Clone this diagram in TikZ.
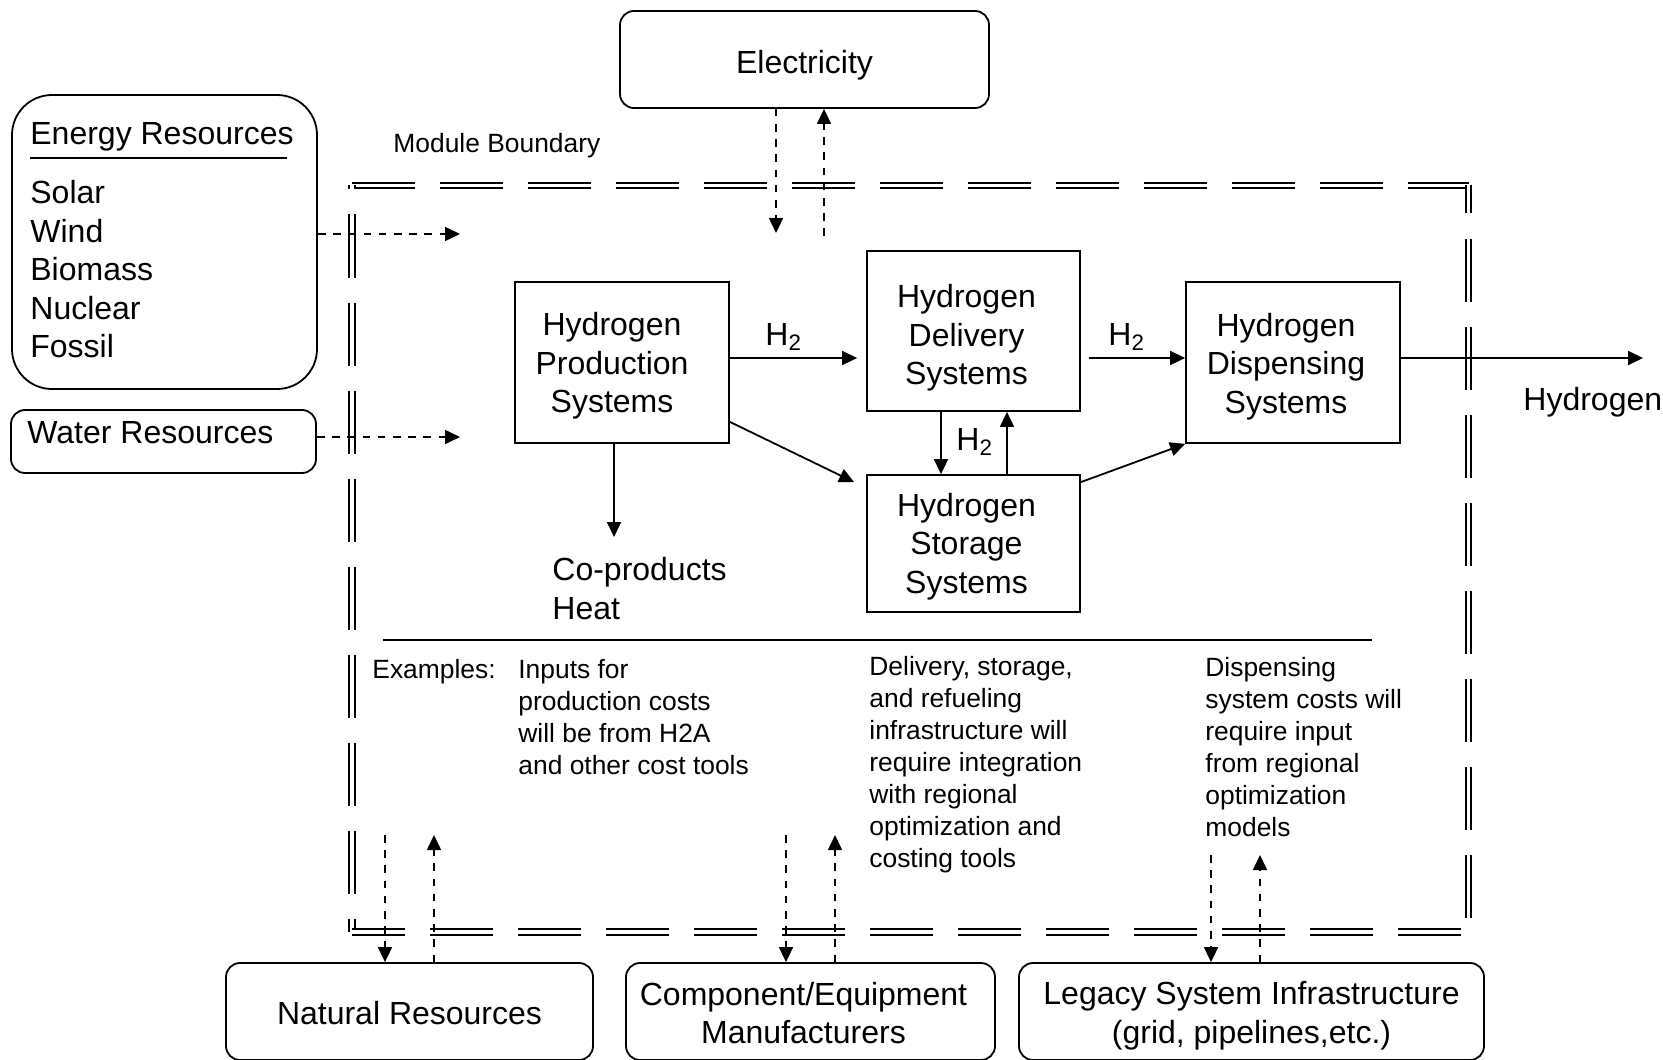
\documentclass[tikz,border=0pt]{standalone}
\usepackage{fontspec}
\setmainfont{Liberation Sans}
\usetikzlibrary{arrows.meta,calc}
\newcommand\myBig{\fontsize{16}{19.25}\selectfont}
\newcommand\mySmall{\fontsize{13.2}{16}\selectfont}
\begin{document}
\begin{tikzpicture}[x=0.5pt,y=-0.5pt,
  box/.style={draw, line width=0.9pt, inner sep=0pt},
  rbox/.style={box, rounded corners=7pt},
  btxt/.style={inner sep=0pt, align=center, font=\myBig},
  txt/.style={inner sep=0pt, align=left, anchor=north west},
  arr/.style={line width=0.9pt, -{Triangle[length=7.5pt,width=7pt]}},
  darr/.style={line width=0.8pt, dash pattern=on 3.8pt off 3.8pt, -{Triangle[length=7.5pt,width=7pt]}},
  bnd/.style={double, double distance=1.6pt, line width=1pt, dash pattern=on 31.5pt off 12.5pt},
  sep/.style={line width=0.8pt}]
\useasboundingbox (0,0) rectangle (1663,1059);

% module boundary
\draw[bnd] (352,185.5) -- (1468.5,185.5);
\draw[bnd, dash phase=17.5pt] (1468.5,185.5) -- (1468.5,932);
\draw[bnd, dash phase=29.5pt] (352,185.5) -- (352,932);
\draw[bnd, dash phase=5pt] (352,932) -- (1468.5,932);
\node[txt, font=\mySmall, anchor=base west] (mb) at (393,153) {Module Boundary};

% boxes
\node[rbox, minimum width=184.5pt, minimum height=48.5pt] (elec) at (804.5,59.5) {};
\node[box, rounded corners=20pt, minimum width=152.5pt, minimum height=147pt] (energy) at (164.5,242) {};
\node[rbox, minimum width=152.5pt, minimum height=31.5pt] (water) at (163.5,441.5) {};
\node[box, minimum width=107pt, minimum height=80.5pt] (prod) at (622,362.5) {};
\node[box, minimum width=106.5pt, minimum height=80pt] (deliv) at (973.5,331) {};
\node[box, minimum width=106.5pt, minimum height=68.5pt] (stor) at (973.5,543.5) {};
\node[box, minimum width=107pt, minimum height=80.5pt] (disp) at (1293,362.5) {};
\node[rbox, minimum width=183.5pt, minimum height=48.5pt] (nat) at (409.5,1011.5) {};
\node[rbox, minimum width=184.5pt, minimum height=48.5pt] (comp) at (810.5,1011.5) {};
\node[rbox, minimum width=232.5pt, minimum height=48.5pt] (leg) at (1251.5,1011.5) {};

% box texts
\node[btxt] (elect) at (804.5,65) {Electricity};
\node[btxt] (prodt) at (612,366) {Hydrogen\\Production\\Systems};
\node[btxt] (delivt) at (966.5,338) {Hydrogen\\Delivery\\Systems};
\node[btxt] (stort) at (966.5,546.5) {Hydrogen\\Storage\\Systems};
\node[btxt] (dispt) at (1286,366.5) {Hydrogen\\Dispensing\\Systems};
\node[btxt] (natt) at (409.5,1013.5) {Natural Resources};
\node[btxt] (compt) at (803.5,1013) {Component/Equipment\\Manufacturers};
\node[btxt] (legt) at (1251.5,1015.5) {Legacy System Infrastructure\\(grid, pipelines,etc.)};

% other texts
\node[txt, font=\myBig] (ehead) at (30,122) {Energy Resources};
\draw[sep] (30,158) -- (287,158);
\node[txt, font=\myBig] (elist) at (30,180) {Solar\\Wind\\Biomass\\Nuclear\\Fossil};
\node[txt, font=\myBig, anchor=base west] (wtext) at (27,443) {Water Resources};
\node[txt, font=\myBig] (coprod) at (552,557) {Co-products\\Heat};
\node[txt, font=\myBig, anchor=base west] (hout) at (1523,410) {Hydrogen};
\node[txt, font=\myBig, anchor=base west] (h2a) at (765,345) {H\textsubscript{2}};
\node[txt, font=\myBig, anchor=base west] (h2b) at (1108,345) {H\textsubscript{2}};
\node[txt, font=\myBig, anchor=base west] (h2c) at (956,450) {H\textsubscript{2}};

\draw[sep] (383,640) -- (1372,640);
\node[txt, font=\mySmall] (ex) at (372,658.5) {Examples:};
\node[txt, font=\mySmall] (ex1) at (518,658.5) {Inputs for\\production costs\\will be from H2A\\and other cost tools};
\node[txt, font=\mySmall] (ex2) at (869,655.5) {Delivery, storage,\\and refueling\\infrastructure will\\require integration\\with regional\\optimization and\\costing tools};
\node[txt, font=\mySmall] (ex3) at (1205,656.5) {Dispensing\\system costs will\\require input\\from regional\\optimization\\models};

% solid connectors
\coordinate (pd) at (0,358);
\coordinate (hend) at (1643,358);
\coordinate (dsx) at (941,0);
\coordinate (usx) at (1007,0);
\coordinate (cpt) at (614,537);
\draw[arr, shorten >=4.5pt] (prod.east |- pd) -- (deliv.west |- pd);
\draw[arr, shorten <=4pt] (deliv.east |- pd) -- (disp.west |- pd);
\draw[arr] (disp.east |- pd) -- (hend);
\draw[arr] ($(prod.south east)+(0,-22)$) -- ($(stor.north west)+(-12,8)$);
\draw[arr] ($(stor.north east)+(0,8)$) -- (disp.south west);
\draw[arr] (deliv.south -| dsx) -- (stor.north -| dsx);
\draw[arr] (stor.north -| usx) -- (deliv.south -| usx);
\draw[arr] (prod.south -| cpt) -- (cpt);

% dashed connectors
\coordinate (ein) at (460,234);
\coordinate (win) at (460,437);
\coordinate (eld) at (776,233);
\coordinate (elu) at (824,236);
\coordinate (nd) at (385,835);
\coordinate (nu) at (434,835);
\coordinate (cd) at (786,835);
\coordinate (cu) at (835,835);
\coordinate (ld) at (1211,855);
\coordinate (lu) at (1260,855);
\draw[darr] (energy.east |- ein) -- (ein);
\draw[darr] (water.east |- win) -- (win);
\draw[darr] (elec.south -| eld) -- (eld);
\draw[darr] (elu) -- (elec.south -| elu);
\draw[darr] (nd) -- (nat.north -| nd);
\draw[darr] (nat.north -| nu) -- (nu);
\draw[darr] (cd) -- (comp.north -| cd);
\draw[darr] (comp.north -| cu) -- (cu);
\draw[darr] (ld) -- (leg.north -| ld);
\draw[darr] (leg.north -| lu) -- (lu);
\end{tikzpicture}
\end{document}
